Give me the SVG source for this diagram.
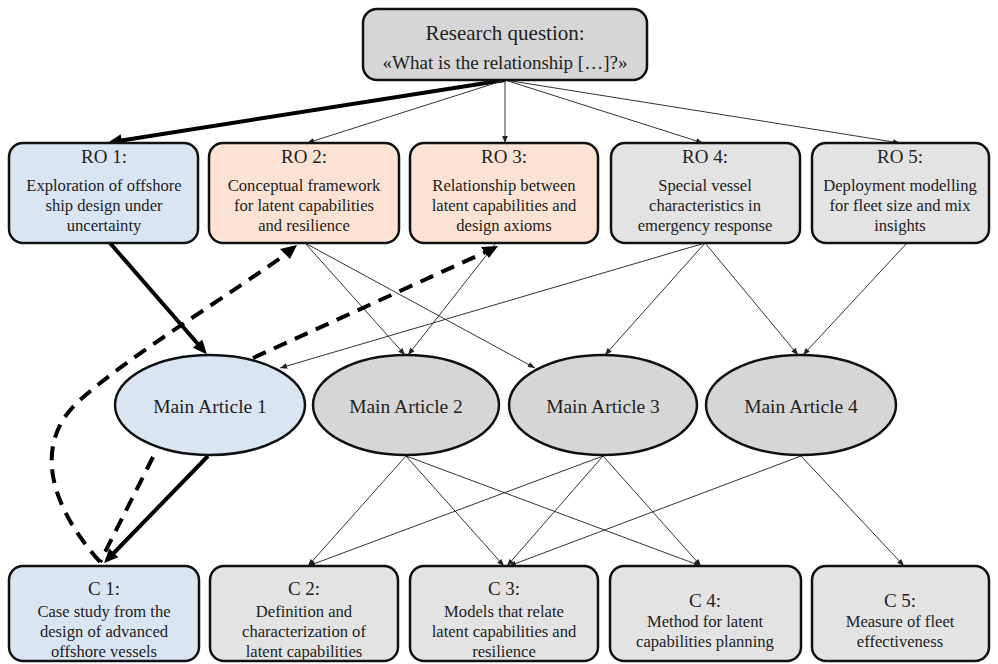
<svg xmlns="http://www.w3.org/2000/svg" width="998" height="664" viewBox="0 0 998 664">
<defs>
<style>
.box{stroke:#111;stroke-width:2.5}
.blue{fill:#dae5f3}
.peach{fill:#fbe2d2}
.gray{fill:#e3e3e3}
.dgray{fill:#d6d6d6}
.t{fill:#222;text-anchor:middle}
.h{font-size:19px}
.e{font-size:19.5px}
.b{font-size:16.6px}
.thin{stroke:#333;stroke-width:1;fill:none;marker-end:url(#ah)}
.thick{stroke:#000;stroke-width:4;fill:none;marker-end:url(#ahb)}
.dash{stroke:#000;stroke-width:4;fill:none;stroke-dasharray:14 9}
</style>
<marker id="ah" viewBox="0 0 10 10" refX="10" refY="5" markerWidth="8" markerHeight="7" markerUnits="userSpaceOnUse" orient="auto"><path d="M0,1 L10,5 L0,9 z" fill="#222"/></marker>
<marker id="ahb" viewBox="0 0 10 10" refX="7" refY="5" markerWidth="15" markerHeight="14" markerUnits="userSpaceOnUse" orient="auto"><path d="M0,0.5 L10,5 L0,9.5 z" fill="#000"/></marker>
</defs>
<rect width="998" height="664" fill="#fff"/>

<g id="connectors">
<line class="thick" x1="505" y1="80" x2="112" y2="142"/>
<line class="thin" x1="505" y1="80" x2="307" y2="143"/>
<line class="thin" x1="505" y1="80" x2="505" y2="143"/>
<line class="thin" x1="505" y1="80" x2="703" y2="143"/>
<line class="thin" x1="505" y1="80" x2="900" y2="143"/>

<line class="thick" x1="110" y1="243" x2="204" y2="351"/>
<line class="thin" x1="305" y1="243" x2="405" y2="355"/>
<line class="thin" x1="305" y1="243" x2="535" y2="368"/>
<line class="thin" x1="496" y1="243" x2="408" y2="355"/>
<line class="thin" x1="705" y1="243" x2="280" y2="368"/>
<line class="thin" x1="705" y1="243" x2="605" y2="355"/>
<line class="thin" x1="705" y1="243" x2="798" y2="355"/>
<line class="thin" x1="907" y1="243" x2="803" y2="355"/>

<line class="dash" x1="253" y1="358" x2="490" y2="250"/>
<path class="dash" d="M100,562 C45,500 35,440 80,400 C130,355 230,295 290,251"/>
<line class="dash" x1="153" y1="457" x2="100" y2="562"/>
<path d="M498,246 L481,247 L489,258 Z" fill="#000"/>
<path d="M297,245 L280,249 L290,259 Z" fill="#000"/>

<line class="thick" x1="208" y1="456" x2="107" y2="560"/>

<line class="thin" x1="406" y1="456" x2="308" y2="566"/>
<line class="thin" x1="406" y1="456" x2="504" y2="566"/>
<line class="thin" x1="406" y1="456" x2="701" y2="566"/>
<line class="thin" x1="603" y1="456" x2="308" y2="566"/>
<line class="thin" x1="603" y1="456" x2="507" y2="566"/>
<line class="thin" x1="603" y1="456" x2="701" y2="566"/>
<line class="thin" x1="801" y1="456" x2="509" y2="566"/>
<line class="thin" x1="801" y1="456" x2="904" y2="566"/>
</g>

<g font-family="'Liberation Serif', 'DejaVu Serif', serif">
<g id="rq">
<rect class="box dgray" x="363" y="9" width="284" height="71" rx="14"/>
<text class="t" x="505" y="40" font-size="21">Research question:</text>
<text class="t" x="505" y="69" font-size="19">«What is the relationship […]?»</text>
</g>

<g id="ro1">
<rect class="box blue" x="9" y="143" width="189" height="100" rx="14"/>
<text class="t h" x="104" y="163">RO 1:</text>
<text class="t b" x="104" y="191">Exploration of offshore</text>
<text class="t b" x="104" y="211">ship design under</text>
<text class="t b" x="104" y="231">uncertainty</text>
</g>
<g id="ro2">
<rect class="box peach" x="209" y="143" width="190" height="100" rx="14"/>
<text class="t h" x="304" y="163">RO 2:</text>
<text class="t b" x="304" y="191">Conceptual framework</text>
<text class="t b" x="304" y="211">for latent capabilities</text>
<text class="t b" x="304" y="231">and resilience</text>
</g>
<g id="ro3">
<rect class="box peach" x="410" y="143" width="188" height="100" rx="14"/>
<text class="t h" x="504" y="163">RO 3:</text>
<text class="t b" x="504" y="191">Relationship between</text>
<text class="t b" x="504" y="211">latent capabilities and</text>
<text class="t b" x="504" y="231">design axioms</text>
</g>
<g id="ro4">
<rect class="box gray" x="611" y="143" width="189" height="100" rx="14"/>
<text class="t h" x="705" y="163">RO 4:</text>
<text class="t b" x="705" y="191">Special vessel</text>
<text class="t b" x="705" y="211">characteristics in</text>
<text class="t b" x="705" y="231">emergency response</text>
</g>
<g id="ro5">
<rect class="box gray" x="812" y="143" width="177" height="100" rx="14"/>
<text class="t h" x="900" y="163">RO 5:</text>
<text class="t b" x="900" y="191">Deployment modelling</text>
<text class="t b" x="900" y="211">for fleet size and mix</text>
<text class="t b" x="900" y="231">insights</text>
</g>

<g id="ma1">
<ellipse class="box blue" cx="210" cy="405" rx="95" ry="50"/>
<text class="t e" x="210" y="413">Main Article 1</text>
</g>
<g id="ma2">
<ellipse class="box dgray" cx="406" cy="405" rx="93" ry="50"/>
<text class="t e" x="406" y="413">Main Article 2</text>
</g>
<g id="ma3">
<ellipse class="box dgray" cx="603" cy="405" rx="94" ry="50"/>
<text class="t e" x="603" y="413">Main Article 3</text>
</g>
<g id="ma4">
<ellipse class="box dgray" cx="801" cy="405" rx="95" ry="50"/>
<text class="t e" x="801" y="413">Main Article 4</text>
</g>

<g id="c1">
<rect class="box blue" x="9" y="566" width="190" height="95" rx="14"/>
<text class="t h" x="104" y="595">C 1:</text>
<text class="t b" x="104" y="617">Case study from the</text>
<text class="t b" x="104" y="637">design of advanced</text>
<text class="t b" x="104" y="657">offshore vessels</text>
</g>
<g id="c2">
<rect class="box gray" x="210" y="566" width="188" height="95" rx="14"/>
<text class="t h" x="304" y="595">C 2:</text>
<text class="t b" x="304" y="617">Definition and</text>
<text class="t b" x="304" y="637">characterization of</text>
<text class="t b" x="304" y="657">latent capabilities</text>
</g>
<g id="c3">
<rect class="box gray" x="410" y="566" width="188" height="95" rx="14"/>
<text class="t h" x="504" y="595">C 3:</text>
<text class="t b" x="504" y="617">Models that relate</text>
<text class="t b" x="504" y="637">latent capabilities and</text>
<text class="t b" x="504" y="657">resilience</text>
</g>
<g id="c4">
<rect class="box gray" x="610" y="566" width="191" height="95" rx="14"/>
<text class="t h" x="705" y="607">C 4:</text>
<text class="t b" x="705" y="627">Method for latent</text>
<text class="t b" x="705" y="647">capabilities planning</text>
</g>
<g id="c5">
<rect class="box gray" x="812" y="566" width="177" height="95" rx="14"/>
<text class="t h" x="900" y="607">C 5:</text>
<text class="t b" x="900" y="627">Measure of fleet</text>
<text class="t b" x="900" y="647">effectiveness</text>
</g>
</g>
</svg>
